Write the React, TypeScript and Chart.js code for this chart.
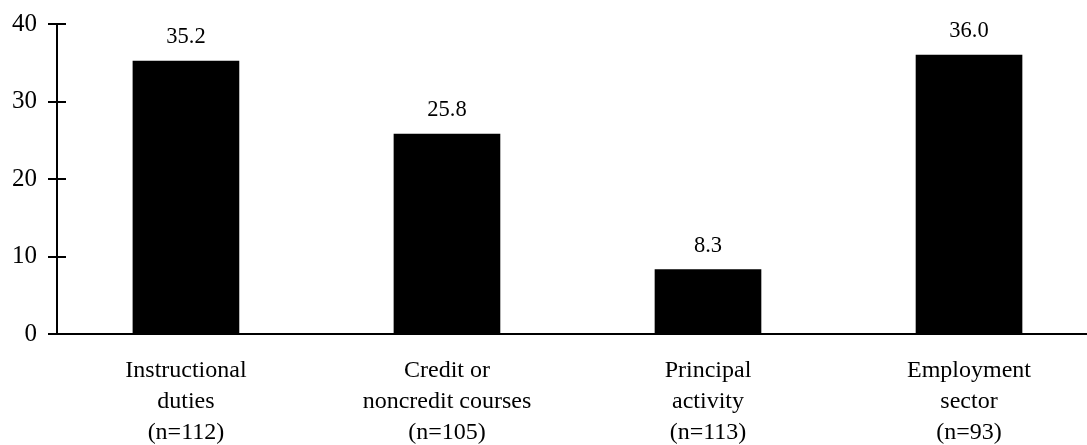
import React, { useEffect, useRef } from "react";
import { Chart, registerables } from "chart.js";

Chart.register(...registerables);

const categories: string[][] = [
  ["Instructional", "duties", "(n=112)"],
  ["Credit or", "noncredit courses", "(n=105)"],
  ["Principal", "activity", "(n=113)"],
  ["Employment", "sector", "(n=93)"],
];
const values: number[] = [35.2, 25.8, 8.3, 36.0];
const yTicks: number[] = [0, 10, 20, 30, 40];

const FONT = '"Liberation Serif", "Times New Roman", serif';

const tickMarks = {
  id: "tickMarks",
  afterDraw(chart: any) {
    const ctx = chart.ctx;
    const y = chart.scales.y;
    const left = chart.chartArea.left;
    ctx.save();
    ctx.strokeStyle = "#000";
    ctx.lineWidth = 2;
    y.ticks.forEach((t: any) => {
      const py = Math.round(y.getPixelForValue(t.value));
      ctx.beginPath();
      ctx.moveTo(left - 9, py);
      ctx.lineTo(left + 9, py);
      ctx.stroke();
    });
    ctx.restore();
  },
};

const valueLabels = {
  id: "valueLabels",
  afterDatasetsDraw(chart: any) {
    const ctx = chart.ctx;
    const meta = chart.getDatasetMeta(0);
    ctx.save();
    ctx.fillStyle = "#000";
    ctx.font = `22.5px ${FONT}`;
    ctx.textAlign = "center";
    ctx.textBaseline = "alphabetic";
    meta.data.forEach((bar: any, i: number) => {
      ctx.fillText(values[i].toFixed(1), bar.x, bar.y - 18);
    });
    ctx.restore();
  },
};

export default function App() {
  const ref = useRef<HTMLCanvasElement | null>(null);
  useEffect(() => {
    if (!ref.current) return;
    const chart = new Chart(ref.current, {
      type: "bar",
      data: {
        datasets: [
          {
            data: values.map((v, i) => ({ x: i, y: v })) as any,
            backgroundColor: "#000",
            borderWidth: 0,
            barThickness: 106,
          },
        ],
      },
      options: {
        animation: false,
        responsive: false,
        layout: { padding: { top: 24, left: 0, right: 0, bottom: 0 } },
        plugins: { legend: { display: false }, tooltip: { enabled: false } },
        scales: {
          x: {
            type: "linear",
            offset: false,
            min: -0.494,
            max: 3.452,
            afterBuildTicks: (s: any) => {
              s.ticks = categories.map((_, i) => ({ value: i }));
            },
            afterFit: (s: any) => {
              s.height = 111;
              s.paddingLeft = 0;
              s.paddingRight = 0;
            },
            grid: { display: false, drawTicks: false, offset: false },
            border: { display: true, color: "#000", width: 2 },
            ticks: {
              padding: 21,
              color: "#000",
              maxRotation: 0,
              autoSkip: false,
              font: { family: FONT, size: 24, lineHeight: 1.3 },
              callback: (v: any) => categories[v as number] ?? "",
            },
          },
          y: {
            min: 0,
            max: 40,
            afterBuildTicks: (s: any) => {
              s.ticks = yTicks.map((v) => ({ value: v }));
            },
            afterFit: (s: any) => {
              s.width = 57;
              s.paddingTop = 0;
              s.paddingBottom = 0;
            },
            grid: { display: false, drawTicks: false },
            border: { display: true, color: "#000", width: 2 },
            ticks: {
              padding: 20,
              color: "#000",
              font: { family: FONT, size: 25 },
            },
          },
        },
      },
      plugins: [tickMarks, valueLabels],
    });
    return () => chart.destroy();
  }, []);
  return (
    <div style={{ position: "absolute", left: 0, top: 0, width: 1087, height: 445, background: "#fff" }}>
      <canvas ref={ref} width={1087} height={445} style={{ display: "block" }} />
    </div>
  );
}
